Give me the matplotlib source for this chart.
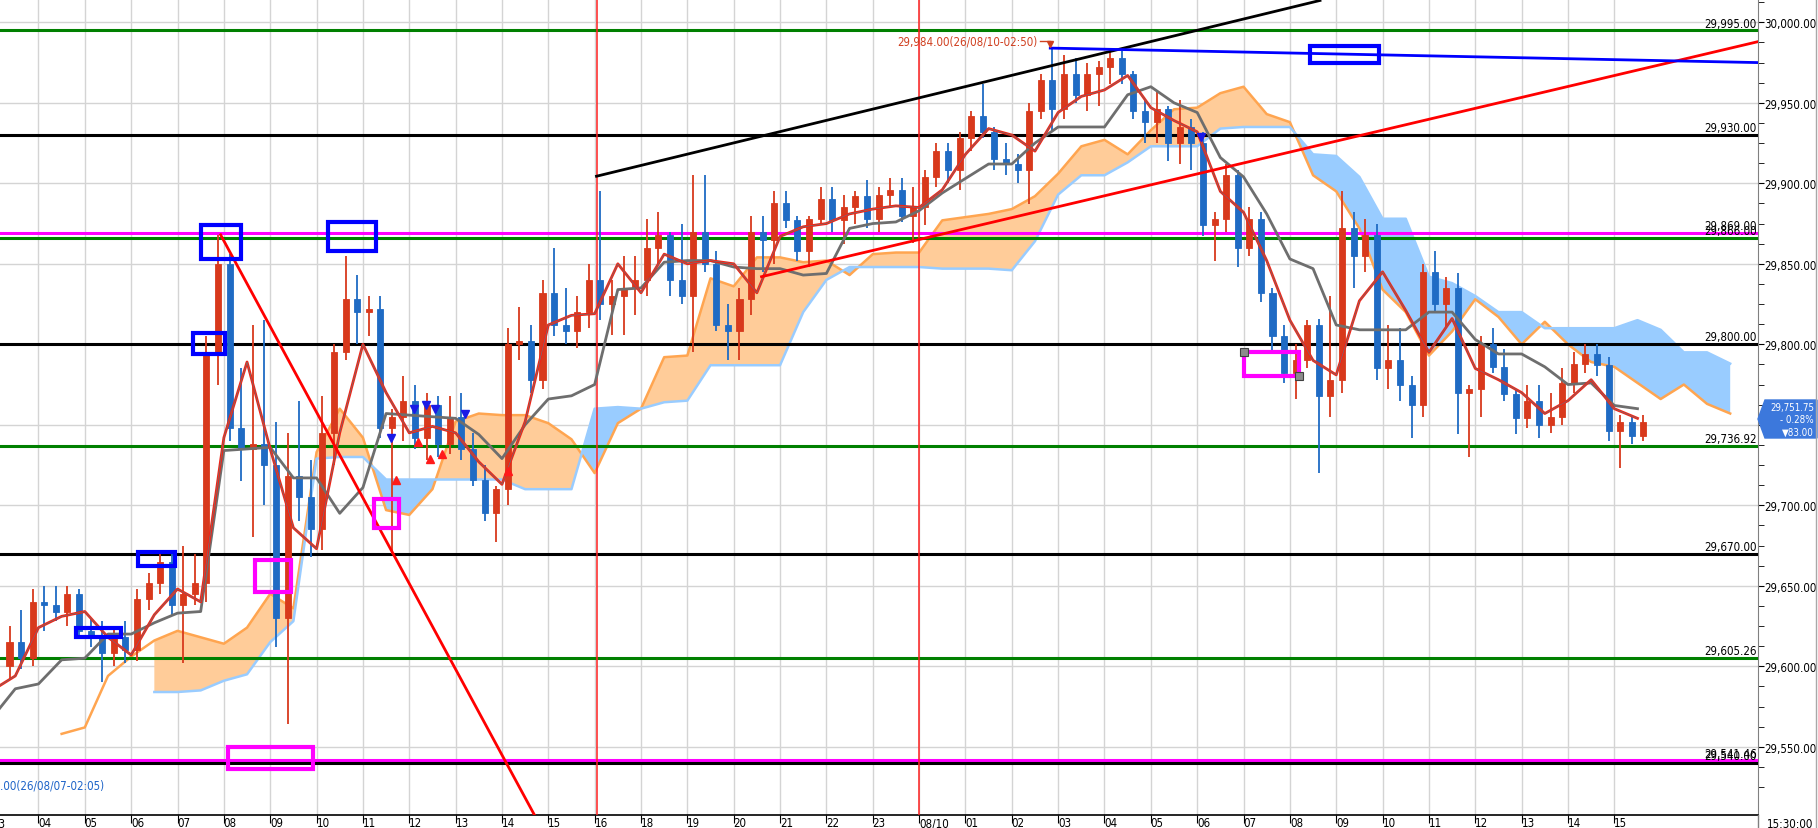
import os
import numpy as np
import matplotlib
matplotlib.use("Agg")
import matplotlib.pyplot as plt
from matplotlib import font_manager
from matplotlib.font_manager import FontProperties
from matplotlib.patches import Rectangle, Polygon
from matplotlib.lines import Line2D
from matplotlib.transforms import blended_transform_factory

# ---- data (x axis = hour slot index, 1 = "04", 20 = "08/10") ----
# 15-minute candles, first one starts at slot 0.25
opens = [29600, 29615, 29605,
         29640, 29638, 29634, 29645,
         29622, 29618, 29608, 29618,
         29610, 29642, 29652, 29665,
         29638, 29645, 29652, 29795,
         29850, 29748, 29735, 29738,
         29725, 29630, 29718, 29705,
         29685, 29745, 29795, 29828,
         29820, 29822, 29748, 29755,
         29765, 29742, 29762, 29738,
         29755, 29735, 29716, 29695,
         29710, 29800, 29802, 29778,
         29832, 29812, 29808, 29820,
         29840, 29825, 29830, 29835,
         29840, 29860, 29868, 29840,
         29830, 29870, 29850, 29812,
         29808, 29828, 29870, 29865,
         29888, 29877, 29858, 29878,
         29890, 29877, 29885, 29892,
         29878, 29893, 29896, 29880,
         29885, 29904, 29920, 29908,
         29928, 29942, 29932, 29915,
         29912, 29908, 29945, 29964,
         29946, 29968, 29955, 29968,
         29972, 29978, 29968, 29945,
         29938, 29946, 29925, 29935,
         29925, 29874, 29878, 29905,
         29860, 29878, 29832, 29805,
         29782, 29790, 29812, 29768,
         29778, 29872, 29855, 29868,
         29785, 29790, 29775, 29762,
         29845, 29825, 29835, 29770,
         29772, 29800, 29786, 29769,
         29754, 29765, 29750, 29755,
         29776, 29788, 29794, 29787,
         29746, 29752, 29743]
highs = [29625, 29635, 29648,
         29650, 29650, 29650, 29648,
         29630, 29628, 29625, 29628,
         29648, 29658, 29672, 29672,
         29675, 29670, 29805, 29868,
         29856, 29785, 29812, 29815,
         29752, 29745, 29765, 29728,
         29768, 29800, 29855, 29843,
         29830, 29830, 29760, 29780,
         29775, 29770, 29768, 29768,
         29770, 29745, 29725, 29712,
         29810, 29823, 29812, 29840,
         29860, 29835, 29830, 29850,
         29895, 29840, 29855, 29855,
         29878, 29882, 29870, 29875,
         29905, 29905, 29858, 29825,
         29835, 29880, 29880, 29895,
         29895, 29880, 29880, 29898,
         29898, 29893, 29895, 29902,
         29898, 29903, 29903, 29898,
         29908, 29925, 29925, 29932,
         29945, 29962, 29935, 29925,
         29918, 29950, 29968, 29984,
         29980, 29978, 29975, 29976,
         29982, 29982, 29970, 29952,
         29957, 29948, 29952, 29940,
         29932, 29882, 29912, 29908,
         29885, 29882, 29835, 29812,
         29800, 29815, 29816, 29830,
         29895, 29882, 29878, 29875,
         29812, 29810, 29780, 29850,
         29858, 29842, 29844, 29775,
         29805, 29810, 29797, 29772,
         29775, 29775, 29770, 29785,
         29795, 29800, 29800, 29792,
         29756, 29756, 29756]
lows = [29592, 29598, 29600,
        29622, 29628, 29625, 29618,
        29612, 29590, 29600, 29602,
        29603, 29635, 29645, 29632,
        29602, 29638, 29640, 29775,
        29740, 29715, 29680, 29700,
        29612, 29564, 29690, 29668,
        29672, 29725, 29790, 29800,
        29805, 29742, 29670, 29740,
        29735, 29728, 29730, 29732,
        29728, 29712, 29690, 29677,
        29700, 29790, 29770, 29772,
        29805, 29800, 29798, 29810,
        29815, 29806, 29806, 29818,
        29830, 29850, 29830, 29825,
        29795, 29845, 29808, 29790,
        29790, 29818, 29845, 29850,
        29872, 29852, 29848, 29875,
        29870, 29862, 29875, 29872,
        29870, 29885, 29876, 29863,
        29874, 29898, 29900, 29896,
        29920, 29928, 29908, 29905,
        29900, 29887, 29940, 29932,
        29940, 29950, 29945, 29948,
        29962, 29962, 29940, 29925,
        29925, 29914, 29912, 29908,
        29867, 29852, 29870, 29848,
        29855, 29826, 29795, 29776,
        29766, 29785, 29720, 29755,
        29770, 29835, 29845, 29778,
        29772, 29765, 29742, 29755,
        29820, 29810, 29744, 29730,
        29755, 29782, 29765, 29744,
        29748, 29742, 29745, 29750,
        29770, 29782, 29780, 29740,
        29723, 29738, 29740]
closes = [29615, 29605, 29640,
          29638, 29634, 29645, 29622,
          29618, 29608, 29618, 29610,
          29642, 29652, 29665, 29638,
          29645, 29652, 29795, 29850,
          29748, 29735, 29738, 29725,
          29630, 29718, 29705, 29685,
          29745, 29795, 29828, 29820,
          29822, 29748, 29755, 29765,
          29742, 29762, 29738, 29755,
          29735, 29716, 29695, 29710,
          29800, 29802, 29778, 29832,
          29812, 29808, 29820, 29840,
          29825, 29830, 29835, 29840,
          29860, 29868, 29840, 29830,
          29870, 29850, 29812, 29808,
          29828, 29870, 29865, 29888,
          29877, 29858, 29878, 29890,
          29877, 29885, 29892, 29878,
          29893, 29896, 29880, 29885,
          29904, 29920, 29908, 29928,
          29942, 29932, 29915, 29912,
          29908, 29945, 29964, 29946,
          29968, 29955, 29968, 29972,
          29978, 29968, 29945, 29938,
          29946, 29925, 29935, 29925,
          29874, 29878, 29905, 29860,
          29878, 29832, 29805, 29782,
          29790, 29812, 29768, 29778,
          29872, 29855, 29868, 29785,
          29790, 29775, 29762, 29845,
          29825, 29835, 29770, 29772,
          29800, 29786, 29769, 29754,
          29765, 29750, 29755, 29776,
          29788, 29794, 29787, 29746,
          29752, 29743, 29751.75]

# ichimoku lines, one value every half slot starting at slot 0
tenkan = [29585, 29594, 29624, 29631, 29634, 29618, 29607, 29632, 29648, 29640,
          29742, 29789, 29735, 29686, 29673, 29745, 29800, 29770, 29745, 29749,
          29745, 29727, 29713, 29752, 29812, 29818, 29819, 29850, 29832, 29856,
          29850, 29852, 29850, 29832, 29867, 29873, 29875, 29881, 29884, 29886,
          29885, 29896, 29918, 29934, 29930, 29920, 29944, 29954, 29958, 29967,
          29947, 29939, 29932, 29895, 29882, 29852, 29815, 29790, 29781, 29827,
          29845, 29821, 29795, 29816, 29785, 29778, 29770, 29757, 29765, 29778,
          29760, 29754]
kijun = [29568, 29586, 29589, 29604, 29605, 29620, 29620, 29627, 29633, 29634,
         29734, 29735, 29736, 29717, 29717, 29695, 29711, 29757, 29756, 29755,
         29754, 29744, 29729, 29750, 29766, 29768, 29775, 29834, 29835, 29851,
         29852, 29852, 29848, 29847, 29847, 29843, 29844, 29872, 29875, 29876,
         29883, 29894, 29903, 29912, 29912, 29925, 29935, 29935, 29935, 29955,
         29960, 29950, 29944, 29916, 29904, 29881, 29853, 29847, 29812, 29809,
         29809, 29809, 29820, 29820, 29803, 29794, 29794, 29786, 29775, 29776,
         29762, 29760]
nan = float("nan")
span_a = [nan, nan, nan, 29558, 29562, 29594, 29606, 29616, 29622, 29618,
          29614, 29624, 29645, 29636, 29733, 29760, 29742, 29697, 29694, 29710,
          29752, 29757, 29756, 29756, 29751, 29741, 29720, 29751, 29760, 29792,
          29793, 29841, 29836, 29854, 29854, 29851, 29852, 29843, 29856, 29857,
          29857, 29877, 29879, 29881, 29884, 29892, 29906, 29923, 29927, 29918,
          29933, 29946, 29947, 29956, 29960, 29943, 29938, 29905, 29895, 29872,
          29834, 29820, 29793, 29808, 29828, 29817, 29800, 29814, 29800, 29789,
          29786, 29776, 29766, 29775, 29763, 29757]
span_b = [nan, nan, nan, nan, nan, nan, nan, 29584, 29584, 29585,
          29591, 29595, 29615, 29628, 29729, 29730, 29730, 29716, 29716, 29716,
          29716, 29716, 29716, 29710, 29710, 29710, 29760, 29761, 29760, 29764,
          29765, 29787, 29787, 29787, 29787, 29820, 29840, 29848, 29848, 29848,
          29848, 29847, 29847, 29847, 29846, 29864, 29893, 29905, 29905, 29913,
          29923, 29923, 29923, 29934, 29935, 29935, 29935, 29918, 29917, 29904,
          29878, 29878, 29842, 29838, 29830, 29820, 29820, 29810, 29810, 29810,
          29810, 29815, 29809, 29795, 29795, 29788]

tick_labels = ["04", "05", "06", "07", "08", "09", "10", "11", "12", "13", "14",
               "15", "16", "18", "19", "20", "21", "22", "23", "08/10", "01",
               "02", "03", "04", "05", "06", "07", "08", "09", "10", "11", "12",
               "13", "14", "15"]

# horizontal price levels
level_values = [29995.00, 29930.00, 29869.00, 29866.00, 29800.00,
                29736.92, 29670.00, 29605.26, 29541.46, 29540.00]
level_colors = ["#008000", "black", "#FF00FF", "#008000", "black",
                "#008000", "black", "#008000", "#FF00FF", "black"]

# trend lines: (x0, y0, x1, y1, colour)
trend_lines = [(13.04, 29904.4, 28.65, 30013.6, "black"),
               (16.6, 29842.0, 38.1, 29988.0, "#FF0000"),
               (4.93, 29868.0, 11.75, 29505.0, "#FF0000"),
               (22.83, 29984.0, 38.1, 29975.0, "#0000FF")]
event_lines = [13.06, 20.0]

# marked boxes: (x0, x1, y0, y1)
blue_boxes = [(4.50, 5.37, 29853, 29874), (7.24, 8.28, 29858, 29876),
              (4.33, 5.02, 29794, 29807), (3.15, 3.95, 29662, 29671),
              (1.82, 2.77, 29618, 29624), (28.43, 29.92, 29975, 29985)]
pink_boxes = [(5.67, 6.45, 29646, 29666), (8.25, 8.77, 29686, 29704),
              (5.10, 6.93, 29536, 29550), (27.01, 28.19, 29780, 29795)]

sell_x = [8.60, 9.10, 9.37, 9.55, 10.20, 26.09]
sell_y = [29742, 29760, 29762, 29760, 29757, 29929]
buy_x = [8.71, 9.18, 9.45, 9.70, 11.12]
buy_y = [29716, 29739, 29729, 29732, 29721]


# ---- font: look for a narrow sans face, the chart uses a tall thin one ----
def pick_narrow():
    best = None
    for f in font_manager.fontManager.ttflist:
        nm = f.name.lower()
        base = os.path.basename(f.fname).lower()
        narrow = ("narrow" in nm or "condensed" in nm or "narrow" in base
                  or "condensed" in base or f.stretch in ("condensed", "semi-condensed"))
        if not narrow or "mono" in nm or "serif" in nm.replace("sans", ""):
            continue
        if f.style != "normal" or f.weight not in (400, "normal", "regular"):
            continue
        if any(w in base for w in ("bold", "italic", "light", "thin", "medium",
                                   "black", "semi", "extra", "ultra")):
            continue
        rank = 3
        if "liberation" in nm:
            rank = 0
        elif "noto sans" in nm:
            rank = 1
        elif "dejavu" in nm:
            rank = 2
        if best is None or rank < best[0]:
            best = (rank, f.fname)
    return best[1] if best else None


narrow_file = pick_narrow()
if narrow_file:
    FS = 8.3
    def font(size=FS):
        return FontProperties(fname=narrow_file, size=size)
else:
    FS = 8.0
    def font(size=FS):
        return FontProperties(family=["Liberation Sans", "DejaVu Sans"], size=size)
plt.rcParams["font.family"] = ["Liberation Sans", "DejaVu Sans"]

UP = "#D8391C"
DOWN = "#1F6BC4"

W, H = 1818, 829
fig = plt.figure(figsize=(W / 100, H / 100), dpi=100)
ax = fig.add_axes([0, 13 / H, 1758 / W, 816 / H])
ax.set_xlim(0.17, 38.1)
ax.set_ylim(29507.6, 30014.5)

# grid
for h in range(1, 36):
    ax.axvline(h, color="#D4D4D4", lw=1, zorder=0)
for v in np.arange(29550, 30001, 50):
    ax.axhline(v, color="#D4D4D4", lw=1, zorder=0)

# cloud
xs = 0.5 * np.arange(len(span_a))
a = np.array(span_a)
b = np.array(span_b)
ok = ~np.isnan(b)
ax.fill_between(xs[ok], a[ok], b[ok], where=a[ok] >= b[ok], interpolate=True,
                color="#FFCC99", lw=0, zorder=1)
ax.fill_between(xs[ok], a[ok], b[ok], where=a[ok] < b[ok], interpolate=True,
                color="#99CCFF", lw=0, zorder=1)
ax.plot(xs, a, color="#FFA550", lw=1.8, zorder=2)
ax.plot(xs, b, color="#99CCFF", lw=1.8, zorder=2)

# price levels
for v, c in zip(level_values, level_colors):
    ax.axhline(v, color=c, lw=2.2, zorder=3)

# event lines
for x in event_lines:
    ax.axvline(x, color="#FF2020", lw=1.1, zorder=3)

# candles
o = np.array(opens, dtype=float)
hi = np.array(highs, dtype=float)
lo = np.array(lows, dtype=float)
cl = np.array(closes, dtype=float)
cx = 0.375 + 0.25 * np.arange(len(o))
cols = np.where(cl >= o, UP, DOWN)
ax.vlines(cx, lo, hi, colors=cols, lw=1.3, zorder=4)
body = np.maximum(np.abs(cl - o), 0.8)
ax.bar(cx, body, bottom=np.minimum(o, cl), width=0.13, color=cols,
       edgecolor=cols, lw=0.6, zorder=5)

# tenkan / kijun
xl = 0.5 * np.arange(len(tenkan))
ax.plot(xl, kijun, color="#6E6E6E", lw=2.0, zorder=6)
ax.plot(xl, tenkan, color="#F02418", lw=2.0, zorder=6)
ax.plot(xl, tenkan, color="#3C9090", lw=0.35, zorder=6)

# trend lines
for x0, y0, x1, y1, c in trend_lines:
    ax.plot([x0, x1], [y0, y1], color=c, lw=2.0, zorder=7)

# boxes
for x0, x1, y0, y1 in blue_boxes:
    ax.add_patch(Rectangle((x0, y0), x1 - x0, y1 - y0, fill=False,
                           edgecolor="#0000FF", lw=3, zorder=8))
for x0, x1, y0, y1 in pink_boxes:
    ax.add_patch(Rectangle((x0, y0), x1 - x0, y1 - y0, fill=False,
                           edgecolor="#FF00FF", lw=3, zorder=8))
sel = pink_boxes[3]
ax.plot([sel[0], sel[1]], [sel[3], sel[2]], ls="none", marker="s", ms=6,
        mfc="#8C8C8C", mec="#404040", mew=0.8, zorder=9)

# signal arrows
ax.plot(sell_x, sell_y, ls="none", marker="v", ms=6, color="#1A1AE6", zorder=9)
ax.plot(buy_x, buy_y, ls="none", marker="^", ms=6, color="#FF1A1A", zorder=9)

# high / low notes
ax.text(22.56, 29988.4, "29,984.00(26/08/10-02:50)", color="#D04020",
        fontproperties=font(), ha="right", va="center", zorder=9)
ax.plot([22.6, 22.83], [29988.4, 29988.4], color="#D04020", lw=1, zorder=9)
ax.plot([22.83], [29986.5], ls="none", marker="v", ms=5, color="#D04020", zorder=9)
ax.text(2.42, 29526, "29,563.00(26/08/07-02:05)", color="#1E64C8",
        fontproperties=font(), ha="right", va="center", zorder=9)

# level labels
tr = blended_transform_factory(ax.transAxes, ax.transData)
for v in level_values:
    ax.annotate(f"{v:,.2f}", xy=(1, v), xycoords=tr, xytext=(-1, 0.6),
                textcoords="offset points", ha="right", va="bottom",
                fontproperties=font(), color="black", zorder=10,
                annotation_clip=False)

# axes
for s in ["left", "top"]:
    ax.spines[s].set_visible(False)
ax.spines["right"].set_color("#808080")
ax.spines["bottom"].set_color("black")
ax.spines["bottom"].set_linewidth(1.2)

ax.yaxis.tick_right()
yt = np.arange(29550, 30001, 50)
ax.set_yticks(yt)
ax.set_yticklabels([f"{v:,.2f}" for v in yt], fontproperties=font())
ax.set_yticks(np.arange(29525, 30013, 12.5), minor=True)
ax.tick_params(axis="y", which="both", direction="out", length=4,
               color="black", pad=0.5)

ax.set_xticks(np.arange(1, 36))
ax.set_xticklabels(tick_labels, fontproperties=font())
for lab in ax.get_xticklabels():
    lab.set_horizontalalignment("left")
ax.tick_params(axis="x", direction="out", length=6, pad=-5, color="black")
ax.text(0.0, -0.002, "03", transform=blended_transform_factory(ax.transData, ax.transAxes),
        fontproperties=font(), ha="left", va="top", clip_on=False)

fig.text(1813 / W, -0.002, "15:30:00", fontproperties=font(), ha="right", va="bottom")

# last price box
pts = [(1758, 420), (1765, 401), (1817, 401), (1817, 439), (1765, 439)]
fig.add_artist(Polygon([(x / W, 1 - y / H) for x, y in pts], closed=True,
                       facecolor="#3C78DC", edgecolor="#3C78DC",
                       transform=fig.transFigure))
for txt, y in [(f"{closes[-1]:,.2f}", 407.5), ("- 0.28%", 420), ("▼83.00", 432.5)]:
    fig.text(1814 / W, 1 - y / H, txt, color="white",
             fontproperties=font(7.0), ha="right", va="center")
fig.add_artist(Line2D([1816 / W, 1816 / W], [0, 1], color="#A8A8A8", lw=1,
                      transform=fig.transFigure))
fig.add_artist(Line2D([1758 / W, 1758 / W], [0, 13 / H], color="#808080", lw=1,
                      transform=fig.transFigure))

fig.savefig("out.png", dpi=100)
